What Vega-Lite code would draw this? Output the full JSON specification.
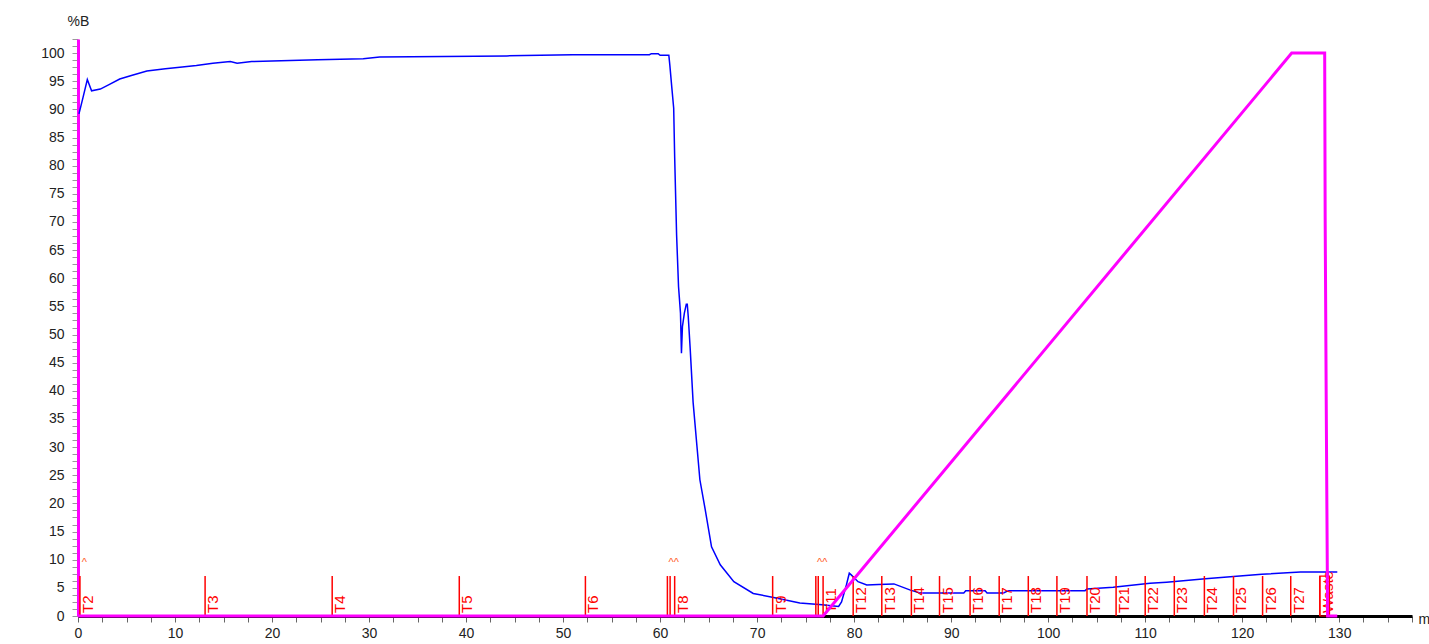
{
  "$schema": "https://vega.github.io/schema/vega-lite/v6.json",
  "width": 1334,
  "height": 577,
  "autosize": {"type": "none"},
  "padding": {"left": 78, "top": 39, "right": 17, "bottom": 28},
  "background": "white",
  "config": {
    "view": {"stroke": null},
    "font": "Liberation Sans",
    "axisX": {
      "grid": false,
      "domainColor": "#000000",
      "domainWidth": 3,
      "tickColor": "#666666",
      "tickSize": 6,
      "tickWidth": 1,
      "labelPadding": 4,
      "labelFontSize": 14,
      "labelColor": "#222222",
      "labelFlush": false,
      "labelOverlap": false,
      "titleAngle": 0,
      "titleX": 1340,
      "titleY": 3,
      "titleAlign": "left",
      "titleBaseline": "middle",
      "titleFontSize": 14,
      "titleFontWeight": "normal",
      "titleColor": "#222222"
    },
    "axisY": {
      "grid": false,
      "domainColor": "#ff00ff",
      "domainWidth": 3,
      "tickColor": "#999999",
      "tickSize": 6,
      "tickWidth": 1,
      "labelPadding": 8,
      "labelFontSize": 14,
      "labelColor": "#222222",
      "labelFlush": false,
      "labelOverlap": false,
      "titleAngle": 0,
      "titleX": 0,
      "titleY": -11,
      "titleAlign": "center",
      "titleBaseline": "bottom",
      "titleFontSize": 14,
      "titleFontWeight": "normal",
      "titleColor": "#222222"
    }
  },
  "datasets": {
    "trace": [
      {"t": 0.1, "v": 89.2}, {"t": 0.5, "v": 92.0}, {"t": 0.96, "v": 95.3}, {"t": 1.4, "v": 93.3},
      {"t": 2.3, "v": 93.6}, {"t": 3.2, "v": 94.4}, {"t": 4.3, "v": 95.4}, {"t": 5.5, "v": 96.0},
      {"t": 7.1, "v": 96.8}, {"t": 9.0, "v": 97.2}, {"t": 10.5, "v": 97.5}, {"t": 12.2, "v": 97.8},
      {"t": 13.9, "v": 98.2}, {"t": 15.7, "v": 98.5}, {"t": 16.4, "v": 98.2}, {"t": 17.9, "v": 98.5},
      {"t": 24.7, "v": 98.8}, {"t": 29.4, "v": 99.0}, {"t": 31.1, "v": 99.3}, {"t": 44.2, "v": 99.5},
      {"t": 51.0, "v": 99.7}, {"t": 58.9, "v": 99.7}, {"t": 59.1, "v": 99.9}, {"t": 59.8, "v": 99.9},
      {"t": 60.0, "v": 99.6}, {"t": 60.9, "v": 99.6}, {"t": 61.0, "v": 97.9}, {"t": 61.2, "v": 94.0},
      {"t": 61.4, "v": 90.2}, {"t": 61.5, "v": 81.6}, {"t": 61.7, "v": 67.7}, {"t": 61.9, "v": 58.5},
      {"t": 62.1, "v": 53.8}, {"t": 62.2, "v": 46.7}, {"t": 62.3, "v": 51.4}, {"t": 62.5, "v": 53.8},
      {"t": 62.7, "v": 55.4}, {"t": 62.8, "v": 55.4}, {"t": 62.9, "v": 53.2}, {"t": 63.1, "v": 47.5},
      {"t": 63.4, "v": 38.0}, {"t": 63.8, "v": 30.1}, {"t": 64.1, "v": 24.2}, {"t": 64.6, "v": 19.4},
      {"t": 65.3, "v": 12.3}, {"t": 66.2, "v": 9.1}, {"t": 67.6, "v": 6.1}, {"t": 69.6, "v": 4.0},
      {"t": 71.7, "v": 3.3}, {"t": 74.4, "v": 2.3}, {"t": 76.7, "v": 2.0}, {"t": 78.4, "v": 1.7},
      {"t": 78.7, "v": 2.5}, {"t": 79.2, "v": 5.5}, {"t": 79.5, "v": 7.6}, {"t": 79.7, "v": 7.3},
      {"t": 80.4, "v": 6.1}, {"t": 81.3, "v": 5.5}, {"t": 82.5, "v": 5.6}, {"t": 84.1, "v": 5.7},
      {"t": 85.8, "v": 4.6}, {"t": 86.8, "v": 4.1}, {"t": 91.3, "v": 4.1}, {"t": 91.5, "v": 4.5},
      {"t": 93.5, "v": 4.5}, {"t": 93.7, "v": 4.1}, {"t": 95.4, "v": 4.1}, {"t": 95.9, "v": 4.5},
      {"t": 103.8, "v": 4.5}, {"t": 104.0, "v": 4.8}, {"t": 106.7, "v": 5.1}, {"t": 110.5, "v": 5.8},
      {"t": 112.2, "v": 6.0}, {"t": 116.2, "v": 6.6}, {"t": 119.1, "v": 7.0}, {"t": 122.0, "v": 7.4},
      {"t": 126.0, "v": 7.8}, {"t": 129.8, "v": 7.8}
    ],
    "gradient": [
      {"t": 0, "v": 0}, {"t": 76.8, "v": 0}, {"t": 125.1, "v": 100}, {"t": 128.5, "v": 100},
      {"t": 128.55, "v": 70.7}, {"t": 128.65, "v": 40.5}, {"t": 128.8, "v": 0}, {"t": 129.8, "v": 0}
    ],
    "fractions": [
      {"t": 0.2, "label": "T2"}, {"t": 13.1, "label": "T3"}, {"t": 26.2, "label": "T4"},
      {"t": 39.3, "label": "T5"}, {"t": 52.3, "label": "T6"}, {"t": 60.75, "label": ""},
      {"t": 61.03, "label": ""}, {"t": 61.5, "label": "T8"}, {"t": 71.6, "label": "T9"},
      {"t": 76.05, "label": ""}, {"t": 76.3, "label": ""}, {"t": 76.8, "label": "T11"},
      {"t": 79.9, "label": "T12"}, {"t": 82.85, "label": "T13"}, {"t": 85.9, "label": "T14"},
      {"t": 88.8, "label": "T15"}, {"t": 91.95, "label": "T16"}, {"t": 94.95, "label": "T17"},
      {"t": 97.95, "label": "T18"}, {"t": 100.9, "label": "T19"}, {"t": 104.0, "label": "T20"},
      {"t": 107.0, "label": "T21"}, {"t": 110.0, "label": "T22"}, {"t": 113.0, "label": "T23"},
      {"t": 116.1, "label": "T24"}, {"t": 119.1, "label": "T25"}, {"t": 122.1, "label": "T26"},
      {"t": 125.0, "label": "T27"}, {"t": 128.0, "label": "Waste"}
    ],
    "events": [
      {"t": 0.65, "v": 9.4, "label": "^"},
      {"t": 61.4, "v": 9.4, "label": "^^"},
      {"t": 76.7, "v": 9.4, "label": "^^"}
    ],
    "waste": [{"t": 128.0, "t_end": 129.0}]
  },
  "layer": [
    {
      "data": {"name": "trace"},
      "mark": {"type": "line", "color": "#0000ff", "strokeWidth": 1.5, "interpolate": "linear"},
      "encoding": {
        "x": {
          "field": "t", "type": "quantitative", "title": "m",
          "scale": {"domain": [0, 137.5], "nice": false, "zero": false},
          "axis": {
            "values": [0,2.5,5,7.5,10,12.5,15,17.5,20,22.5,25,27.5,30,32.5,35,37.5,40,42.5,45,47.5,50,52.5,55,57.5,60,62.5,65,67.5,70,72.5,75,77.5,80,82.5,85,87.5,90,92.5,95,97.5,100,102.5,105,107.5,110,112.5,115,117.5,120,122.5,125,127.5,130,132.5,135,137.5],
            "labelExpr": "datum.value % 10 === 0 ? datum.label : ''"
          }
        },
        "y": {
          "field": "v", "type": "quantitative", "title": "%B",
          "scale": {"domain": [0, 102.5], "nice": false},
          "axis": {
            "values": [0,1.25,2.5,3.75,5,6.25,7.5,8.75,10,11.25,12.5,13.75,15,16.25,17.5,18.75,20,21.25,22.5,23.75,25,26.25,27.5,28.75,30,31.25,32.5,33.75,35,36.25,37.5,38.75,40,41.25,42.5,43.75,45,46.25,47.5,48.75,50,51.25,52.5,53.75,55,56.25,57.5,58.75,60,61.25,62.5,63.75,65,66.25,67.5,68.75,70,71.25,72.5,73.75,75,76.25,77.5,78.75,80,81.25,82.5,83.75,85,86.25,87.5,88.75,90,91.25,92.5,93.75,95,96.25,97.5,98.75,100,101.25,102.5],
            "labelExpr": "datum.value % 5 === 0 ? datum.label : ''"
          }
        }
      }
    },
    {
      "data": {"name": "fractions"},
      "mark": {"type": "rule", "color": "#ff0000", "strokeWidth": 1.5},
      "encoding": {
        "x": {
          "field": "t", "type": "quantitative", "title": "m",
          "axis": {
            "values": [0,2.5,5,7.5,10,12.5,15,17.5,20,22.5,25,27.5,30,32.5,35,37.5,40,42.5,45,47.5,50,52.5,55,57.5,60,62.5,65,67.5,70,72.5,75,77.5,80,82.5,85,87.5,90,92.5,95,97.5,100,102.5,105,107.5,110,112.5,115,117.5,120,122.5,125,127.5,130,132.5,135,137.5],
            "labelExpr": "datum.value % 10 === 0 ? datum.label : ''"
          }
        },
        "y": {
          "datum": 0, "type": "quantitative", "title": "%B",
          "axis": {
            "values": [0,1.25,2.5,3.75,5,6.25,7.5,8.75,10,11.25,12.5,13.75,15,16.25,17.5,18.75,20,21.25,22.5,23.75,25,26.25,27.5,28.75,30,31.25,32.5,33.75,35,36.25,37.5,38.75,40,41.25,42.5,43.75,45,46.25,47.5,48.75,50,51.25,52.5,53.75,55,56.25,57.5,58.75,60,61.25,62.5,63.75,65,66.25,67.5,68.75,70,71.25,72.5,73.75,75,76.25,77.5,78.75,80,81.25,82.5,83.75,85,86.25,87.5,88.75,90,91.25,92.5,93.75,95,96.25,97.5,98.75,100,101.25,102.5],
            "labelExpr": "datum.value % 5 === 0 ? datum.label : ''"
          }
        },
        "y2": {"datum": 7.1}
      }
    },
    {
      "data": {"name": "waste"},
      "mark": {"type": "rect", "fillOpacity": 0, "stroke": "#ff0000", "strokeWidth": 1.2},
      "encoding": {
        "x": {
          "field": "t", "type": "quantitative", "title": "m",
          "axis": {
            "values": [0,2.5,5,7.5,10,12.5,15,17.5,20,22.5,25,27.5,30,32.5,35,37.5,40,42.5,45,47.5,50,52.5,55,57.5,60,62.5,65,67.5,70,72.5,75,77.5,80,82.5,85,87.5,90,92.5,95,97.5,100,102.5,105,107.5,110,112.5,115,117.5,120,122.5,125,127.5,130,132.5,135,137.5],
            "labelExpr": "datum.value % 10 === 0 ? datum.label : ''"
          }
        },
        "x2": {"field": "t_end"},
        "y": {
          "datum": 0, "type": "quantitative", "title": "%B",
          "axis": {
            "values": [0,1.25,2.5,3.75,5,6.25,7.5,8.75,10,11.25,12.5,13.75,15,16.25,17.5,18.75,20,21.25,22.5,23.75,25,26.25,27.5,28.75,30,31.25,32.5,33.75,35,36.25,37.5,38.75,40,41.25,42.5,43.75,45,46.25,47.5,48.75,50,51.25,52.5,53.75,55,56.25,57.5,58.75,60,61.25,62.5,63.75,65,66.25,67.5,68.75,70,71.25,72.5,73.75,75,76.25,77.5,78.75,80,81.25,82.5,83.75,85,86.25,87.5,88.75,90,91.25,92.5,93.75,95,96.25,97.5,98.75,100,101.25,102.5],
            "labelExpr": "datum.value % 5 === 0 ? datum.label : ''"
          }
        },
        "y2": {"datum": 7.1}
      }
    },
    {
      "data": {"name": "fractions"},
      "mark": {"type": "text", "color": "#ff0000", "angle": 270, "align": "left", "baseline": "top", "fontSize": 15, "dx": 3, "dy": 1},
      "encoding": {
        "x": {
          "field": "t", "type": "quantitative", "title": "m",
          "axis": {
            "values": [0,2.5,5,7.5,10,12.5,15,17.5,20,22.5,25,27.5,30,32.5,35,37.5,40,42.5,45,47.5,50,52.5,55,57.5,60,62.5,65,67.5,70,72.5,75,77.5,80,82.5,85,87.5,90,92.5,95,97.5,100,102.5,105,107.5,110,112.5,115,117.5,120,122.5,125,127.5,130,132.5,135,137.5],
            "labelExpr": "datum.value % 10 === 0 ? datum.label : ''"
          }
        },
        "y": {
          "datum": 0, "type": "quantitative", "title": "%B",
          "axis": {
            "values": [0,1.25,2.5,3.75,5,6.25,7.5,8.75,10,11.25,12.5,13.75,15,16.25,17.5,18.75,20,21.25,22.5,23.75,25,26.25,27.5,28.75,30,31.25,32.5,33.75,35,36.25,37.5,38.75,40,41.25,42.5,43.75,45,46.25,47.5,48.75,50,51.25,52.5,53.75,55,56.25,57.5,58.75,60,61.25,62.5,63.75,65,66.25,67.5,68.75,70,71.25,72.5,73.75,75,76.25,77.5,78.75,80,81.25,82.5,83.75,85,86.25,87.5,88.75,90,91.25,92.5,93.75,95,96.25,97.5,98.75,100,101.25,102.5],
            "labelExpr": "datum.value % 5 === 0 ? datum.label : ''"
          }
        },
        "text": {"field": "label"}
      }
    },
    {
      "data": {"name": "events"},
      "mark": {"type": "text", "color": "#ff5a28", "align": "center", "baseline": "middle", "fontSize": 11},
      "encoding": {
        "x": {
          "field": "t", "type": "quantitative", "title": "m",
          "axis": {
            "values": [0,2.5,5,7.5,10,12.5,15,17.5,20,22.5,25,27.5,30,32.5,35,37.5,40,42.5,45,47.5,50,52.5,55,57.5,60,62.5,65,67.5,70,72.5,75,77.5,80,82.5,85,87.5,90,92.5,95,97.5,100,102.5,105,107.5,110,112.5,115,117.5,120,122.5,125,127.5,130,132.5,135,137.5],
            "labelExpr": "datum.value % 10 === 0 ? datum.label : ''"
          }
        },
        "y": {
          "field": "v", "type": "quantitative", "title": "%B",
          "axis": {
            "values": [0,1.25,2.5,3.75,5,6.25,7.5,8.75,10,11.25,12.5,13.75,15,16.25,17.5,18.75,20,21.25,22.5,23.75,25,26.25,27.5,28.75,30,31.25,32.5,33.75,35,36.25,37.5,38.75,40,41.25,42.5,43.75,45,46.25,47.5,48.75,50,51.25,52.5,53.75,55,56.25,57.5,58.75,60,61.25,62.5,63.75,65,66.25,67.5,68.75,70,71.25,72.5,73.75,75,76.25,77.5,78.75,80,81.25,82.5,83.75,85,86.25,87.5,88.75,90,91.25,92.5,93.75,95,96.25,97.5,98.75,100,101.25,102.5],
            "labelExpr": "datum.value % 5 === 0 ? datum.label : ''"
          }
        },
        "text": {"field": "label"}
      }
    },
    {
      "data": {"name": "gradient"},
      "mark": {"type": "line", "color": "#ff00ff", "strokeWidth": 3},
      "encoding": {
        "x": {
          "field": "t", "type": "quantitative", "title": "m",
          "axis": {
            "values": [0,2.5,5,7.5,10,12.5,15,17.5,20,22.5,25,27.5,30,32.5,35,37.5,40,42.5,45,47.5,50,52.5,55,57.5,60,62.5,65,67.5,70,72.5,75,77.5,80,82.5,85,87.5,90,92.5,95,97.5,100,102.5,105,107.5,110,112.5,115,117.5,120,122.5,125,127.5,130,132.5,135,137.5],
            "labelExpr": "datum.value % 10 === 0 ? datum.label : ''"
          }
        },
        "y": {
          "field": "v", "type": "quantitative", "title": "%B",
          "axis": {
            "values": [0,1.25,2.5,3.75,5,6.25,7.5,8.75,10,11.25,12.5,13.75,15,16.25,17.5,18.75,20,21.25,22.5,23.75,25,26.25,27.5,28.75,30,31.25,32.5,33.75,35,36.25,37.5,38.75,40,41.25,42.5,43.75,45,46.25,47.5,48.75,50,51.25,52.5,53.75,55,56.25,57.5,58.75,60,61.25,62.5,63.75,65,66.25,67.5,68.75,70,71.25,72.5,73.75,75,76.25,77.5,78.75,80,81.25,82.5,83.75,85,86.25,87.5,88.75,90,91.25,92.5,93.75,95,96.25,97.5,98.75,100,101.25,102.5],
            "labelExpr": "datum.value % 5 === 0 ? datum.label : ''"
          }
        }
      }
    }
  ]
}
